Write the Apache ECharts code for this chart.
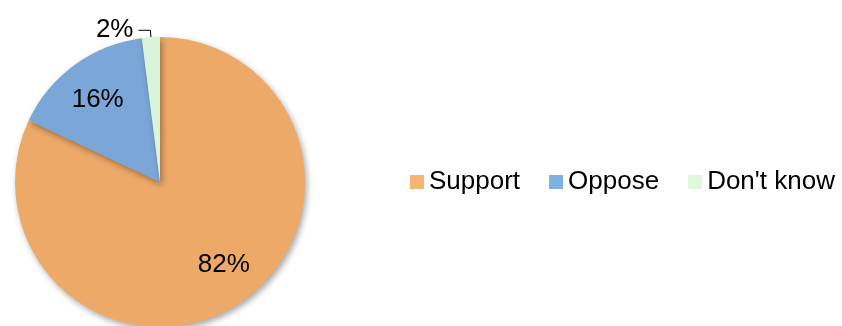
<!DOCTYPE html>
<html>
<head>
<meta charset="utf-8">
<script src="https://cdn.jsdelivr.net/npm/echarts@6/dist/echarts.min.js"></script>
<style>
  html, body { margin: 0; padding: 0; background: #fff; }
  #chart { width: 842px; height: 326px; }
</style>
</head>
<body>
<div id="chart"></div>
<script>
// Survey response shares
const categories = ['Support', 'Oppose', "Don't know"];
const shares = [82, 16, 2];

const sliceColors = ['#EDA968', '#7AA7D8', '#D8F4DA'];
const legendColors = ['#F7B574', '#7FB0E2', '#DDF8DD'];
const labelNudge = [[7, -7], [0, 4], [0, 0]];
const FONT = '"Liberation Sans", Arial, sans-serif';
const FONT_SIZE = 26;

const chart = echarts.init(document.getElementById('chart'), null, { renderer: 'canvas' });

const CENTER = [160, 182];
const R = 145;

chart.setOption({
  animation: false,
  backgroundColor: '#ffffff',
  legend: {
    orient: 'horizontal',
    left: 405,
    top: 164,
    itemWidth: 14,
    itemHeight: 14,
    itemGap: 29,
    icon: 'rect',
    textStyle: { fontFamily: FONT, fontSize: FONT_SIZE, color: '#000' },
    data: categories.map((name, i) => ({ name, itemStyle: { color: legendColors[i] } }))
  },
  series: [
    {
      // the pie itself; only the small slice gets an outside label
      type: 'pie',
      center: CENTER,
      radius: R,
      startAngle: 90,
      clockwise: true,
      avoidLabelOverlap: false,
      itemStyle: {
        shadowBlur: 6,
        shadowOffsetX: 2,
        shadowOffsetY: 3,
        shadowColor: 'rgba(0,0,0,0.35)'
      },
      label: { show: false },
      labelLine: { show: false },
      data: categories.map((name, i) => ({
        name,
        value: shares[i],
        itemStyle: { color: sliceColors[i] },
        label: i === 2 ? {
          show: true,
          position: 'outside',
          formatter: '{c}%',
          fontFamily: FONT,
          fontSize: FONT_SIZE,
          color: '#000',
          distanceToLabelLine: 5,
          verticalAlign: 'bottom',
          lineHeight: 32
        } : { show: false },
        labelLine: i === 2 ? {
          show: true,
          length: 7,
          length2: 12,
          lineStyle: { color: '#000', width: 1 }
        } : { show: false }
      }))
    },
    {
      // transparent ring carrying the in-slice percentage labels
      type: 'pie',
      center: CENTER,
      radius: [61, R],
      startAngle: 90,
      clockwise: true,
      silent: true,
      legendHoverLink: false,
      itemStyle: { color: 'rgba(0,0,0,0)' },
      label: {
        show: true,
        position: 'inside',
        formatter: '{c}%',
        fontFamily: FONT,
        fontSize: FONT_SIZE,
        color: '#000'
      },
      labelLine: { show: false },
      data: categories.map((name, i) => ({
        name,
        value: shares[i],
        label: { show: i !== 2, offset: labelNudge[i] }
      }))
    }
  ]
});
</script>
</body>
</html>
